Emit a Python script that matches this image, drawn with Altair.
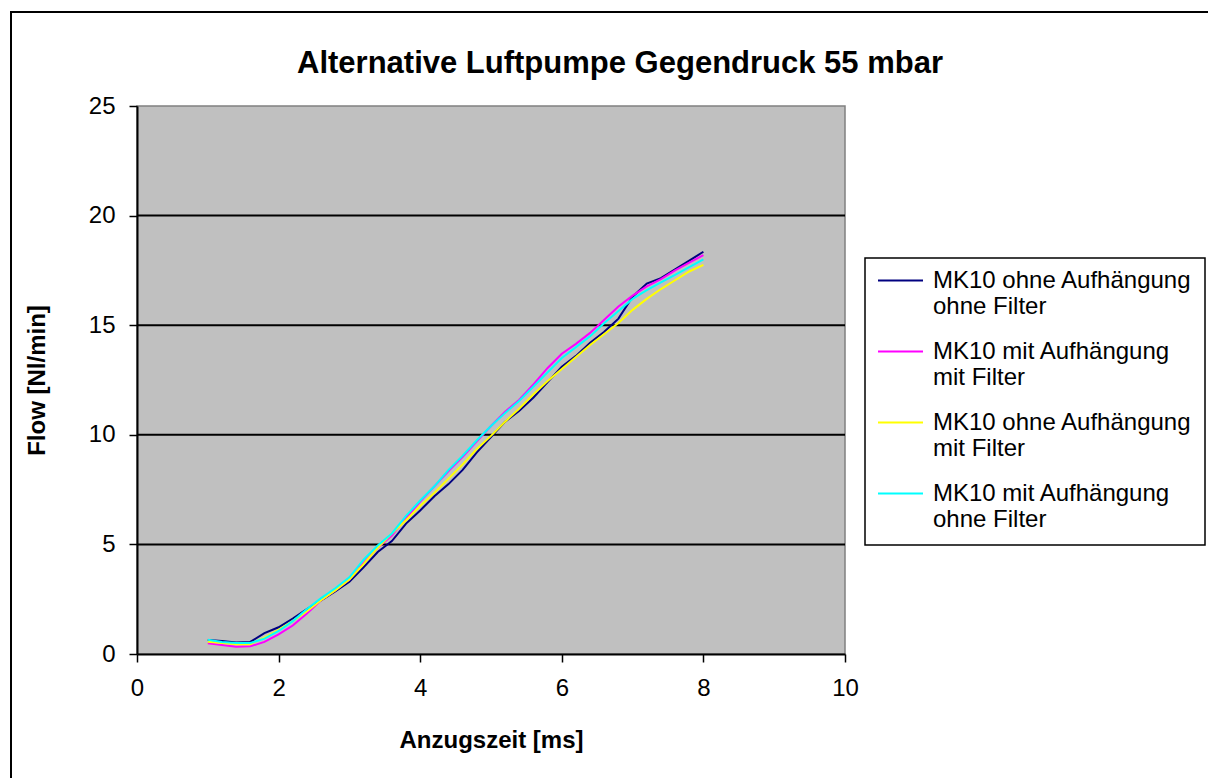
import altair as alt
import pandas as pd

# Anzugszeit [ms]
time_ms = [1.0, 1.2, 1.4, 1.6, 1.8, 2.0, 2.2, 2.4, 2.6, 2.8, 3.0, 3.2,
           3.4, 3.6, 3.8, 4.0, 4.2, 4.4, 4.6, 4.8, 5.0, 5.2, 5.4, 5.6,
           5.8, 6.0, 6.2, 6.4, 6.6, 6.8, 7.0, 7.2, 7.4, 7.6, 7.8, 8.0]

# Flow [Nl/min] per configuration
ohne_aufh_ohne_filter = [0.64, 0.59, 0.52, 0.55, 0.95, 1.22, 1.62, 2.05, 2.45, 2.85, 3.3, 3.95,
                         4.65, 5.15, 5.95, 6.55, 7.2, 7.75, 8.4, 9.2, 9.9, 10.6, 11.1, 11.7,
                         12.4, 13.1, 13.6, 14.2, 14.7, 15.3, 16.3, 16.9, 17.15, 17.55, 17.95, 18.35]
mit_aufh_mit_filter = [0.49, 0.41, 0.33, 0.35, 0.55, 0.9, 1.3, 1.85, 2.45, 2.9, 3.4, 4.15,
                       4.85, 5.4, 6.2, 6.95, 7.65, 8.35, 9.0, 9.7, 10.4, 11.05, 11.6, 12.3,
                       13.05, 13.7, 14.15, 14.65, 15.25, 15.85, 16.35, 16.77, 17.1, 17.5, 17.85, 18.2]
ohne_aufh_mit_filter = [0.56, 0.5, 0.45, 0.45, 0.75, 1.1, 1.5, 1.95, 2.45, 2.9, 3.4, 4.1,
                        4.85, 5.5, 6.1, 6.75, 7.35, 8.0, 8.65, 9.35, 9.95, 10.6, 11.2, 11.85,
                        12.45, 13.0, 13.55, 14.1, 14.6, 15.1, 15.7, 16.2, 16.65, 17.05, 17.45, 17.75]
mit_aufh_ohne_filter = [0.65, 0.55, 0.5, 0.5, 0.7, 1.05, 1.5, 2.05, 2.55, 3.0, 3.5, 4.3,
                        4.95, 5.5, 6.3, 7.0, 7.65, 8.4, 9.05, 9.75, 10.4, 11.0, 11.55, 12.2,
                        12.85, 13.5, 14.0, 14.5, 15.1, 15.65, 16.2, 16.6, 16.95, 17.3, 17.65, 18.0]

series_names = [
    "MK10 ohne Aufhängung ohne Filter",
    "MK10 mit Aufhängung mit Filter",
    "MK10 ohne Aufhängung mit Filter",
    "MK10 mit Aufhängung ohne Filter",
]
series_values = [ohne_aufh_ohne_filter, mit_aufh_mit_filter,
                 ohne_aufh_mit_filter, mit_aufh_ohne_filter]
series_colors = ["#000080", "#FF00FF", "#FFFF00", "#00FFFF"]

x_ticks = [0, 2, 4, 6, 8, 10]
y_ticks = [0, 5, 10, 15, 20, 25]
grid_levels = [5, 10, 15, 20]

chart_title = "Alternative Luftpumpe Gegendruck 55 mbar"

rows = []
for order, (name, values) in enumerate(zip(series_names, series_values)):
    for t, f in zip(time_ms, values):
        rows.append({"serie": name, "order": order, "t": t, "flow": f})
df = pd.DataFrame(rows)

FONT = "Liberation Sans"
W, H = 708, 548
PAD = {"left": 137, "top": 106, "right": 363, "bottom": 124}
one_row = pd.DataFrame({"k": [0]})

x_scale = alt.Scale(domain=[0, 10], nice=False)
y_scale = alt.Scale(domain=[0, 25], nice=False)
x_axis = alt.Axis(values=x_ticks, title="Anzugszeit [ms]",
                  titleX=354, titleY=86, titleAlign="center",
                  titleBaseline="middle", labelFlush=False)
y_axis = alt.Axis(values=y_ticks, title="Flow [Nl/min]",
                  titleX=-100, titleY=274, titleAngle=-90,
                  titleAlign="center", titleBaseline="middle",
                  labelFlush=False)

# outer chart frame
frame = alt.Chart(one_row).mark_rect(
    fillOpacity=0, stroke="black", strokeWidth=2
).encode(
    x=alt.value(-126), x2=alt.value(W + PAD["right"] + 10),
    y=alt.value(-94), y2=alt.value(H + PAD["bottom"] + 10),
)

# chart title
title = alt.Chart(one_row).mark_text(
    text=chart_title, font=FONT, fontSize=31, fontWeight="bold",
    color="black", align="center", baseline="alphabetic",
).encode(x=alt.value(483), y=alt.value(-33))

# legend box
legend_box = alt.Chart(one_row).mark_rect(
    fill="white", stroke="black", strokeWidth=1.5
).encode(
    x=alt.value(728), x2=alt.value(1068),
    y=alt.value(152), y2=alt.value(439),
)

# horizontal grid lines
grid = alt.Chart(pd.DataFrame({"level": grid_levels})).mark_rule(
    color="black", strokeWidth=2
).encode(
    y=alt.Y("level:Q", scale=y_scale, axis=y_axis)
)

lines = alt.Chart(df).mark_line(strokeWidth=2).encode(
    x=alt.X("t:Q", scale=x_scale, axis=x_axis),
    y=alt.Y("flow:Q", scale=y_scale, axis=y_axis),
    color=alt.Color("serie:N",
                    scale=alt.Scale(domain=series_names, range=series_colors),
                    legend=alt.Legend(
                        orient="none", legendX=728, legendY=139, title=None,
                        padding=12, symbolType="stroke", symbolSize=2025,
                        symbolStrokeWidth=2, labelFont=FONT, labelFontSize=24,
                        labelColor="black", labelOffset=9, rowPadding=9,
                        labelLimit=0,
                        labelExpr="split(replace(datum.label, 'ung ', 'ung|'), '|')",
                    )),
    order=alt.Order("order:Q"),
    detail="serie:N",
)

chart = alt.layer(frame, title, legend_box, grid, lines).properties(
    width=W, height=H,
    padding=PAD,
    autosize=alt.AutoSizeParams(type="none"),
    background="white",
).configure_view(
    fill="#C0C0C0", stroke="#808080", strokeWidth=1.5
).configure_axis(
    labelFont=FONT, labelFontSize=24, labelColor="black", labelPadding=14,
    tickColor="black", tickSize=8, tickWidth=1.5,
    domainColor="black", domainWidth=2, grid=False,
    titleFont=FONT, titleFontSize=24, titleFontWeight="bold", titleColor="black",
    labelOverlap=False,
)

chart.save("out.html", embed_options={"renderer": "svg", "actions": False})
